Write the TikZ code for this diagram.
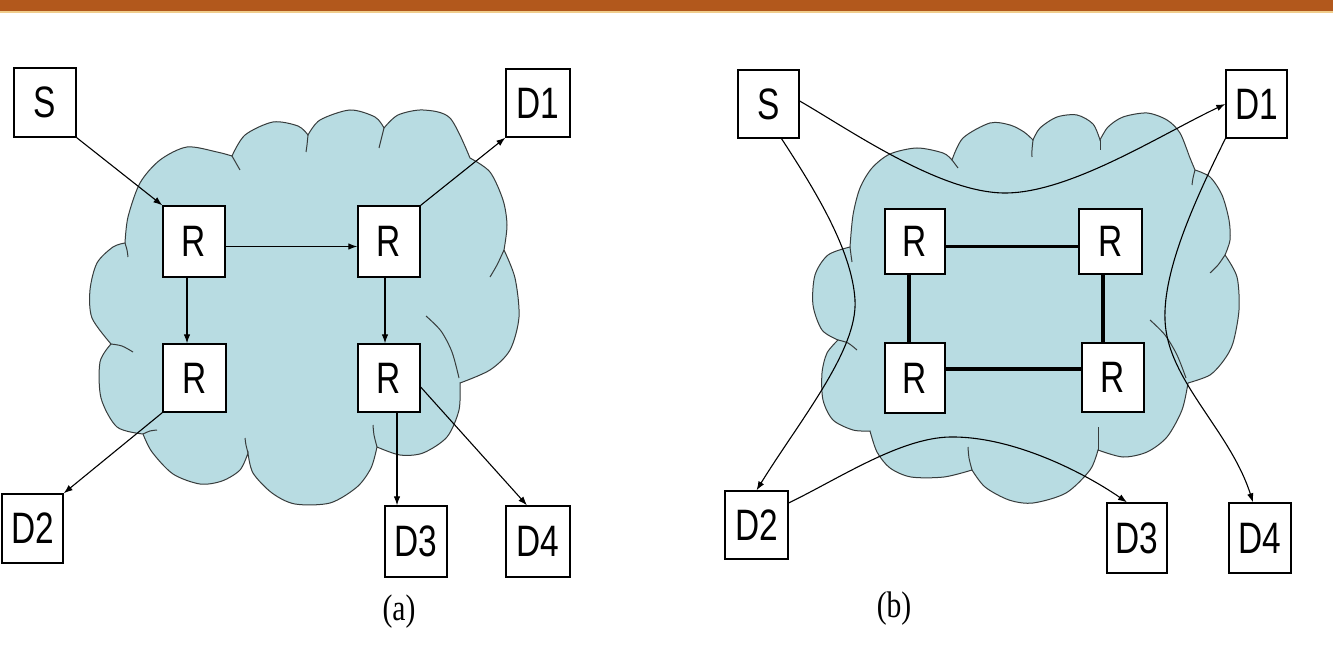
\documentclass[tikz,border=0pt]{standalone}
\usepackage{fontspec}
\usepackage{graphicx}
\setmainfont{Liberation Sans}
\newfontfamily\capfont{Liberation Serif}
\usetikzlibrary{arrows.meta}
\definecolor{cloudfill}{RGB}{184,220,226}
\definecolor{cloudline}{RGB}{55,60,60}
\definecolor{bandcol}{RGB}{178,88,28}
\definecolor{bandlight}{RGB}{240,205,140}
\newcommand{\narrowtxt}[1]{\scalebox{0.76}[1]{#1}}
\begin{document}
\begin{tikzpicture}[x=1pt,y=-1pt,
  box/.style={draw=black,line width=1.3pt,fill=white,inner sep=0pt,font=\fontsize{44}{44}\selectfont},
  conn/.style={draw=black,line width=1.1pt,-{Latex[length=9pt,width=6.5pt]}},
  link/.style={draw=black,line width=3.5pt},
  cloud/.style={fill=cloudfill,draw=cloudline,line width=1pt},
  tick/.style={draw=cloudline,line width=1pt},
  caption/.style={font=\capfont\fontsize{37}{37}\selectfont}]

\fill[white] (0,0) rectangle (1333,660);
\useasboundingbox (0,0) rectangle (1333,660);
\fill[bandcol] (0,0) rectangle (1333,11);
\fill[bandlight] (0,11) rectangle (1333,13.5);

% ---------- cloud (a)
\path[cloud] plot[smooth] coordinates {(125,243) (128,217) (140,183) (160,160) (187,147) (217,152) (232,156)}
 -- plot[smooth] coordinates {(232,156) (245,135) (273,122) (298,126) (308,135)}
 -- plot[smooth] coordinates {(308,135) (320,120) (350,110) (375,117) (384,128)}
 -- plot[smooth] coordinates {(384,128) (398,115) (423,110) (450,118) (470,158)}
 -- plot[smooth] coordinates {(470,158) (490,172) (503,200) (507,225) (504,250)}
 -- plot[smooth] coordinates {(504,250) (515,278) (519,317) (510,350) (490,370) (460,383)}
 -- plot[smooth] coordinates {(460,383) (459,410) (447,437) (423,453) (400,455) (377,447)}
 -- plot[smooth] coordinates {(377,447) (371,468) (357,487) (330,503) (295,504) (272,493) (253,473) (248,453)}
 -- plot[smooth] coordinates {(248,453) (240,470) (222,481) (200,484) (173,474) (152,452) (143,434)}
 -- plot[smooth] coordinates {(143,434) (117,427) (101,398) (100,362) (111,344)}
 -- plot[smooth] coordinates {(111,344) (92,318) (90,290) (97,263) (113,247) (125,243)}
 -- cycle;
\path[tick] plot[smooth] coordinates {(232,156) (236,163) (240,170)};
\path[tick] plot[smooth] coordinates {(308,135) (307,145) (306,152)};
\path[tick] plot[smooth] coordinates {(384,128) (381,140) (379,148)};
\path[tick] plot[smooth] coordinates {(504,250) (497,265) (490,277)};
\path[tick] plot[smooth] coordinates {(426,316) (441,331) (452,352) (459,378)};
\path[tick] plot[smooth] coordinates {(377,447) (374,435) (373,425)};
\path[tick] plot[smooth] coordinates {(248,453) (246,445) (245,438)};
\path[tick] plot[smooth] coordinates {(143,434) (150,431) (157,430)};
\path[tick] plot[smooth] coordinates {(111,344) (122,346) (133,352)};
\path[tick] plot[smooth] coordinates {(125,243) (127,250) (128,257)};

% ---------- cloud (b)
\path[cloud] plot[smooth] coordinates {(850,247) (853,215) (860,188) (872,168) (890,154) (917,148) (943,153) (952,160)}
 -- plot[smooth] coordinates {(952,160) (963,138) (990,123) (1010,125) (1024,132) (1033,140)}
 -- plot[smooth] coordinates {(1033,140) (1040,128) (1057,117) (1077,115) (1093,124) (1100,140)}
 -- plot[smooth] coordinates {(1100,140) (1108,127) (1123,117) (1147,113) (1167,120) (1180,133) (1190,158) (1195,170)}
 -- plot[smooth] coordinates {(1195,170) (1210,177) (1222,195) (1229,220) (1230,240) (1225,255)}
 -- plot[smooth] coordinates {(1225,255) (1237,277) (1239,310) (1233,343) (1224,360) (1210,375) (1188,383)}
 -- plot[smooth] coordinates {(1188,383) (1182,410) (1167,437) (1147,452) (1123,457) (1098,450)}
 -- plot[smooth] coordinates {(1098,450) (1090,470) (1066,493) (1033,503) (1009,500) (985,487) (972,470)}
 -- plot[smooth] coordinates {(972,470) (944,477) (911,477) (890,468) (877,452) (870,431)}
 -- plot[smooth] coordinates {(870,431) (853,430) (833,420) (823,400) (822,373) (827,353) (838,340)}
 -- plot[smooth] coordinates {(838,340) (822,330) (813,305) (815,275) (828,255) (850,247)}
 -- cycle;
\path[tick] plot[smooth] coordinates {(850,247) (851,255) (852,262)};
\path[tick] plot[smooth] coordinates {(952,160) (955,164) (958,168)};
\path[tick] plot[smooth] coordinates {(1033,140) (1032,150) (1032,157)};
\path[tick] plot[smooth] coordinates {(1100,140) (1100,145) (1100,150)};
\path[tick] plot[smooth] coordinates {(1195,170) (1193,178) (1192,185)};
\path[tick] plot[smooth] coordinates {(1225,255) (1218,265) (1210,273)};
\path[tick] plot[smooth] coordinates {(1150,320) (1165,335) (1177,355) (1186,378)};
\path[tick] plot[smooth] coordinates {(1098,450) (1098,438) (1098,427)};
\path[tick] plot[smooth] coordinates {(972,470) (969,458) (968,447)};
\path[tick] plot[smooth] coordinates {(838,340) (848,343) (857,350)};

% ---------- nodes (a)
\node[box,minimum width=62pt,minimum height=69pt] (aS)  at (45,102.5)  {\narrowtxt{S}};
\node[box,minimum width=64pt,minimum height=68pt] (aD1) at (538,103)   {\narrowtxt{D1}};
\node[box,minimum width=62pt,minimum height=71pt] (aR1) at (194,241.5) {\narrowtxt{R}};
\node[box,minimum width=62pt,minimum height=71pt] (aR2) at (389,241.5) {\narrowtxt{R}};
\node[box,minimum width=63pt,minimum height=68pt] (aR3) at (194.5,378) {\narrowtxt{R}};
\node[box,minimum width=62pt,minimum height=68pt] (aR4) at (389,378)   {\narrowtxt{R}};
\node[box,minimum width=61pt,minimum height=69pt] (aD2) at (32.5,528.5) {\narrowtxt{D2}};
\node[box,minimum width=62pt,minimum height=71pt] (aD3) at (416,541.5) {\narrowtxt{D3}};
\node[box,minimum width=64pt,minimum height=71pt] (aD4) at (538,541.5) {\narrowtxt{D4}};

% ---------- nodes (b)
\node[box,minimum width=61pt,minimum height=68pt] (bS)  at (768.5,104)  {\narrowtxt{S}};
\node[box,minimum width=61pt,minimum height=68pt] (bD1) at (1256.5,104) {\narrowtxt{D1}};
\node[box,minimum width=60pt,minimum height=65pt] (bR1) at (915,241.5)  {\narrowtxt{R}};
\node[box,minimum width=63pt,minimum height=65pt] (bR2) at (1110.5,241.5) {\narrowtxt{R}};
\node[box,minimum width=60pt,minimum height=70pt] (bR3) at (915,378)    {\narrowtxt{R}};
\node[box,minimum width=62pt,minimum height=69pt] (bR4) at (1113,377.5) {\narrowtxt{R}};
\node[box,minimum width=63pt,minimum height=68pt] (bD2) at (756.5,525)  {\narrowtxt{D2}};
\node[box,minimum width=60pt,minimum height=70pt] (bD3) at (1137,538)   {\narrowtxt{D3}};
\node[box,minimum width=62pt,minimum height=70pt] (bD4) at (1260,538)   {\narrowtxt{D4}};

% ---------- connectors (a)
\draw[conn] (aS.south east) -- (aR1.north west);
\draw[conn] ([yshift=-5pt]aR1.east) -- ([yshift=-5pt]aR2.west);
\draw[conn] ([xshift=-7pt]aR1.south) -- ([xshift=-7pt]aR1.south |- aR3.north);
\draw[conn] ([xshift=-4pt]aR2.south) -- ([xshift=-4pt]aR2.south |- aR4.north);
\draw[conn] (aR2.north east) -- (aD1.south west);
\draw[conn] (aR3.south west) -- (aD2.north east);
\draw[conn] ([xshift=8pt]aR4.south) -- ([xshift=8pt]aR4.south |- aD3.north);
\draw[conn] ([yshift=-9pt]aR4.east) -- ([xshift=-11pt]aD4.north);

% ---------- connectors (b)
\draw[link] ([yshift=-5pt]bR1.east) -- ([yshift=-5pt]bR1.east -| bR2.west);
\draw[link] ([yshift=9pt]bR3.east) -- ([yshift=9pt]bR3.east -| bR4.west);
\draw[link] ([xshift=-6pt]bR1.south) -- ([xshift=-6pt]bR1.south |- bR3.north);
\draw[link] ([xshift=-7.5pt]bR2.south) -- ([xshift=-7.5pt]bR2.south |- bR4.north);
\draw[conn] ([yshift=3pt]bS.east) .. controls (850,130) and (940,193) .. (1005,193) .. controls (1070,193) and (1160,135) .. (bD1.west);
\draw[conn] ([xshift=13pt]bS.south) .. controls (815,190) and (852,250) .. (855,300) .. controls (858,350) and (800,420) .. (bD2.north);
\draw[conn] (bD1.south west) .. controls (1195,200) and (1163,270) .. (1165,320) .. controls (1167,380) and (1230,430) .. ([xshift=-7pt]bD4.north);
\draw[conn] ([yshift=22pt]bD2.east) .. controls (840,478) and (900,438) .. (950,437) .. controls (1010,436) and (1080,470) .. ([xshift=-10pt]bD3.north);

% ---------- captions
\node[caption] (capa) at (399,612) {\scalebox{0.8}[1]{(a)}};
\node[caption] (capb) at (894,609) {\scalebox{0.8}[1]{(b)}};
\end{tikzpicture}
\end{document}
